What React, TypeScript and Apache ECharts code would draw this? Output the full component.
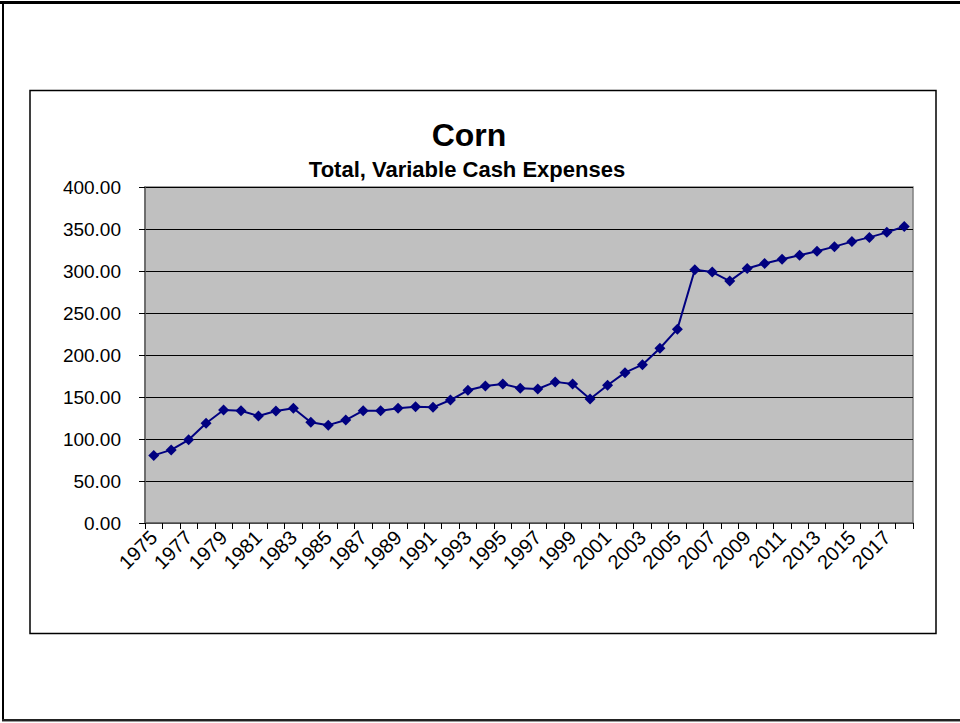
import React, { useEffect, useRef } from "react";
import * as echarts from "echarts";

const years: string[] = [];
for (let y = 1975; y <= 2018; y++) years.push(String(y));

const expenses: number[] = [
  80.5, 87, 99, 118.7, 134.5, 133.7, 127.4, 133.3, 136.5, 120,
  116.5, 122.6, 133.7, 133.7, 136.5, 138.5, 137.7, 146.4, 158, 163,
  165.5, 160.5, 159.5, 168, 165.5, 147.6, 164, 179, 188.5, 208,
  230.8, 301.5, 298.7, 288, 303, 309, 314, 318.8, 323.5, 329,
  335, 340, 346, 353,
];

const titleText = "Corn";
const subtitleText = "Total, Variable Cash Expenses";

const FONT = "'Liberation Sans', Arial, sans-serif";

export default function App() {
  const ref = useRef<HTMLDivElement>(null);
  useEffect(() => {
    if (!ref.current) return;
    const chart = echarts.init(ref.current, undefined, { renderer: "svg" });
    chart.setOption({
      animation: false,
      backgroundColor: "#ffffff",
      title: [
        {
          text: titleText,
          left: 464,
          top: 114,
          textAlign: "center",
          textStyle: { fontSize: 32, fontWeight: "bold", color: "#000", fontFamily: FONT },
        },
        {
          text: subtitleText,
          left: 462,
          top: 153,
          textAlign: "center",
          textStyle: { fontSize: 22, fontWeight: "bold", color: "#000", fontFamily: FONT },
        },
      ],
      graphic: [
        { type: "rect", shape: { x: 0, y: 1, width: 960, height: 3 }, style: { fill: "#000" }, silent: true },
        { type: "rect", shape: { x: 2, y: 1, width: 2, height: 720 }, style: { fill: "#000" }, silent: true },
        { type: "rect", shape: { x: 2, y: 719, width: 958, height: 2 }, style: { fill: "#222" }, silent: true },
        { type: "rect", shape: { x: 2, y: 721, width: 958, height: 1 }, style: { fill: "#999" }, silent: true },
        {
          type: "rect",
          shape: { x: 30, y: 90.5, width: 906, height: 543 },
          style: { fill: "none", stroke: "#000", lineWidth: 1.5 },
          silent: true,
        },
      ],
      grid: {
        left: 145,
        right: 47,
        top: 187,
        bottom: 200,
        show: true,
        backgroundColor: "#C0C0C0",
        borderColor: "#808080",
        borderWidth: 1.5,
      },
      xAxis: {
        type: "category",
        data: years,
        boundaryGap: true,
        axisLine: { show: true, lineStyle: { color: "#606060", width: 1.5 } },
        axisTick: { show: true, interval: 0, length: 6, lineStyle: { color: "#000" } },
        axisLabel: {
          interval: 1,
          rotate: 45,
          fontSize: 20,
          color: "#000",
          fontFamily: FONT,
          margin: 11,
        },
        splitLine: { show: false },
      },
      yAxis: {
        type: "value",
        min: 0,
        max: 400,
        interval: 50,
        axisLine: { show: true, lineStyle: { color: "#606060", width: 1.5 } },
        axisTick: { show: true, length: 6, lineStyle: { color: "#000" } },
        axisLabel: {
          formatter: (v: number) => v.toFixed(2),
          fontSize: 19,
          color: "#000",
          fontFamily: FONT,
          margin: 24,
        },
        splitLine: { show: true, lineStyle: { color: "#000", width: 1 } },
      },
      series: [
        {
          type: "line",
          data: expenses,
          symbol: "diamond",
          symbolSize: 11,
          itemStyle: { color: "#000080" },
          lineStyle: { color: "#000080", width: 2 },
        },
      ],
    });
    return () => chart.dispose();
  }, []);
  return (
    <div
      ref={ref}
      style={{ position: "fixed", left: 0, top: 0, width: 960, height: 723 }}
    />
  );
}
